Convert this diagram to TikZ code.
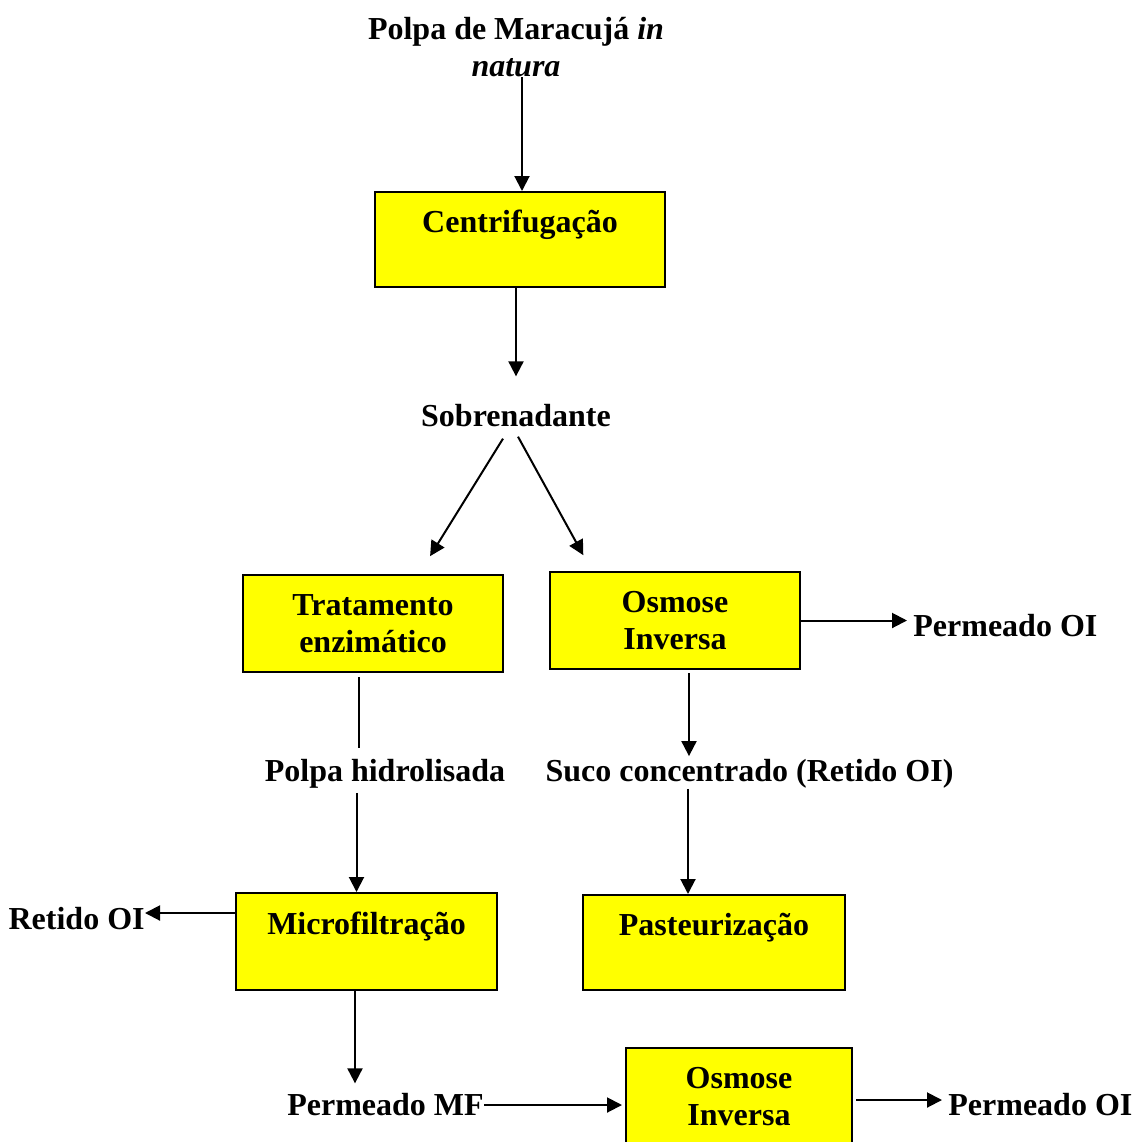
\documentclass[tikz,border=0pt]{standalone}
\usepackage{fontspec}
\setmainfont{Liberation Serif}
\usetikzlibrary{arrows.meta}
\definecolor{boxyellow}{RGB}{255,255,0}

\begin{document}
\begin{tikzpicture}[x=0.5pt,y=-0.5pt,
  every node/.style={font=\fontsize{16}{18.5}\selectfont\bfseries, inner sep=0pt, align=center},
  box/.style={draw, line width=1pt, fill=boxyellow, minimum height=48.5pt},
  arr/.style={line width=1pt, -{Triangle[length=7.5pt,width=7.5pt]}},
  ln/.style={line width=1pt}]
\useasboundingbox (0,0) rectangle (1141,1142);
\clip (0,0) rectangle (1141,1142);
\node (polpa) at (516,47) {Polpa de Maracujá \textit{in}\\\textit{natura}};
\node [box, minimum width=145pt, minimum height=47.5pt] (cen) at (520,239.5) {Centrifugação\\\mbox{}};
\node (sob) at (516,416) {Sobrenadante};
\node [box, minimum width=130pt] (trat) at (373,623.5) {Tratamento\\enzimático};
\node [box, minimum width=125pt] (osm) at (675,620.5) {Osmose\\Inversa};
\node [anchor=west] (perm) at (913,626) {Permeado OI};
\node (hid) at (385,774) {Polpa hidrolisada};
\node (suco) at (749.5,774) {Suco concentrado (Retido OI)};
\node [box, minimum width=130.5pt] (mic) at (366.5,941.5) {Microfiltração\\\mbox{}};
\node [box, minimum width=131pt, minimum height=47.5pt] (pas) at (714,942.5) {Pasteurização\\\mbox{}};
\node [anchor=east] (ret) at (145,919) {Retido OI};
\node (pmf) at (385.5,1105) {Permeado MF};
\node [box, minimum width=113pt] (osm2) at (739,1096.5) {Osmose\\Inversa};
\node [anchor=west] (perm2) at (948,1105) {Permeado OI};
\draw [arr] ([xshift=1pt]polpa.south -| cen.north) -- ([xshift=1pt]cen.north);
\draw [arr, shorten >=14pt] (cen.south -| sob.north) -- (sob.north);
\draw [arr, shorten >=10.5pt] ([xshift=-6.5pt,yshift=-5.5pt]sob.south) -- ([xshift=23pt]trat.north);
\draw [arr, shorten >=9pt] ([xshift=1pt,yshift=-4.5pt]sob.south) -- ([xshift=-41.5pt]osm.north);
\draw [arr, shorten >=3pt] (osm.east) -- (osm.east -| perm.west);
\draw [ln, shorten >=5.5pt] ([xshift=-7pt,yshift=-2pt]trat.south) -- ([xshift=-7pt]trat.south |- hid.north);
\draw [arr, shorten <=2pt] ([xshift=-5pt]mic.north |- hid.south) -- ([xshift=-5pt]mic.north);
\draw [arr, shorten >=1.5pt] ([xshift=7pt,yshift=-1.5pt]osm.south) -- ([xshift=7pt]osm.south |- suco.north);
\draw [arr] ([xshift=-13pt]pas.north |- suco.south) -- ([xshift=-13pt]pas.north);
\draw [arr] ([yshift=-10.5pt]mic.north west) -- ([yshift=-10.5pt]mic.north west -| ret.east);
\draw [arr, shorten >=5pt] ([xshift=-5.75pt]mic.south) -- ([xshift=-5.75pt]mic.south |- pmf.north);
\draw [arr, shorten >=1.5pt] (pmf.east) -- (pmf.east -| osm2.west);
\draw [arr, shorten <=1.5pt, shorten >=3pt] ([yshift=-1.75pt]osm2.east) -- ([yshift=-1.75pt]osm2.east -| perm2.west);
\end{tikzpicture}
\end{document}
